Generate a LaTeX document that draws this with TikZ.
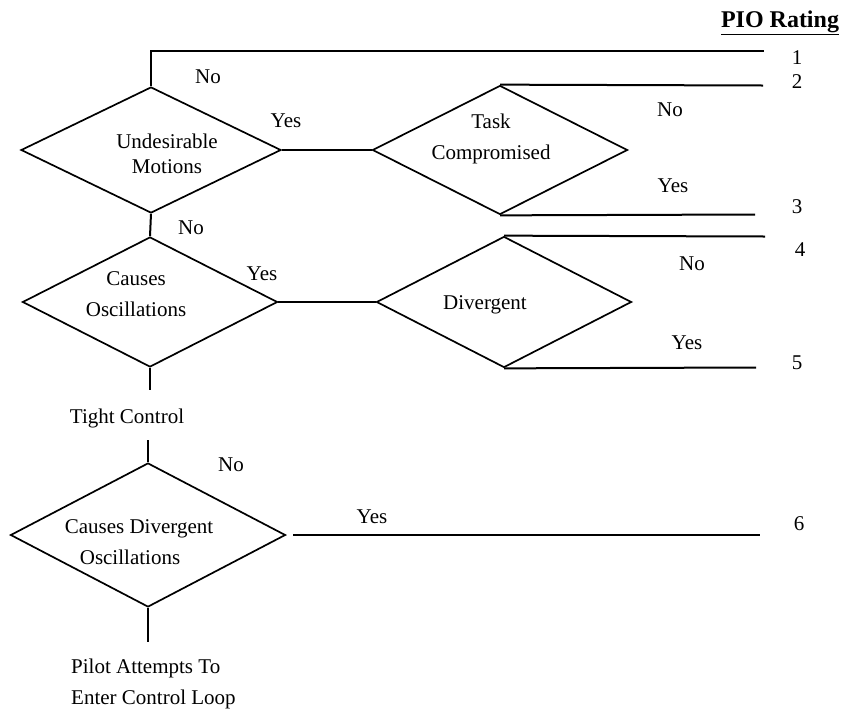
\documentclass[tikz,border=0pt]{standalone}
\usepackage{fontspec}
\setmainfont{Liberation Serif}
\usetikzlibrary{shapes.geometric}
\begin{document}
\begin{tikzpicture}[x=1pt,y=-1pt,
  dia/.style={draw,diamond,line width=1.7pt,inner sep=0pt,line join=miter},
  ln/.style={line width=2pt},
  txt/.style={font=\fontsize{21}{31}\selectfont,inner sep=0pt,align=center},
  num/.style={font=\fontsize{21}{24}\selectfont,inner sep=0pt}]
\useasboundingbox (0,0) rectangle (849,713);
% diamonds
\node[dia,minimum width=260pt,minimum height=126pt] (d1) at (151,150) {};
\node[dia,minimum width=255pt,minimum height=129pt] (tc) at (500,150) {};
\node[dia,minimum width=255pt,minimum height=130pt] (d2) at (150,302) {};
\node[dia,minimum width=255pt,minimum height=131pt] (dv) at (504,302) {};
\node[dia,minimum width=275pt,minimum height=144pt] (d3) at (148,535) {};
% diamond texts
\node[txt,font=\fontsize{21}{25}\selectfont] (t1) at (167,154) {Undesirable\\Motions};
\node[txt] (t2) at (491,139) {Task\\Compromised};
\node[txt] (t3) at (136,294) {Causes\\Oscillations};
\node[txt] (t4) at (485,305) {Divergent};
\node[txt] (t5) at (139,542) {Causes Divergent\\\hspace*{-18pt}Oscillations};
% other texts
\node[txt] (tight) at (127,418) {Tight Control};
\node[txt,align=left,anchor=west] (pilot) at (71,684) {Pilot Attempts To\\Enter Control Loop};
\node[inner sep=0pt,font=\fontsize{24}{28}\selectfont\bfseries] (pio) at (780,23) {\underline{PIO Rating}};
% right end coordinates
\coordinate (e1) at (764,51);
\coordinate (e2) at (763,85.5);
\coordinate (e3) at (755,214.5);
\coordinate (e4) at (765,236.5);
\coordinate (e5) at (756,367.5);
\coordinate (e6) at (760,535);
\coordinate (c1) at (151,51);
\coordinate (s2) at (150,390);
\coordinate (s3) at (148,440);
\coordinate (s4) at (148,642);
\coordinate (y6) at (293,535);
% numbers
\node[num] (n1) at (797,58) {1};
\node[num] (n2) at (797,82) {2};
\node[num] (n3) at (797,207) {3};
\node[num] (n4) at (800,250) {4};
\node[num] (n5) at (797,363) {5};
\node[num] (n6) at (799,524) {6};
% connectors
\draw[ln] (d1.north) -- (c1) -- (e1);
\draw[ln] (d1.east) -- (tc.west);
\draw[ln] (tc.north) -- (e2);
\draw[ln] (tc.south) -- (e3);
\draw[ln] (d1.south) -- (d2.north);
\draw[ln] (d2.east) -- (dv.west);
\draw[ln] (dv.north) -- (e4);
\draw[ln] (dv.south) -- (e5);
\draw[ln] (d2.south) -- (s2);
\draw[ln] (s3) -- (d3.north);
\draw[ln] (y6) -- (e6);
\draw[ln] (d3.south) -- (s4);
% branch labels
\node[txt] (l1) at (208,77) {No};
\node[txt] (l2) at (286,121) {Yes};
\node[txt] (l3) at (191,228) {No};
\node[txt] (l4) at (262,274) {Yes};
\node[txt] (l5) at (670,110) {No};
\node[txt] (l6) at (673,186) {Yes};
\node[txt] (l7) at (692,264) {No};
\node[txt] (l8) at (687,343) {Yes};
\node[txt] (l9) at (231,465) {No};
\node[txt] (l10) at (372,517) {Yes};
\end{tikzpicture}
\end{document}
